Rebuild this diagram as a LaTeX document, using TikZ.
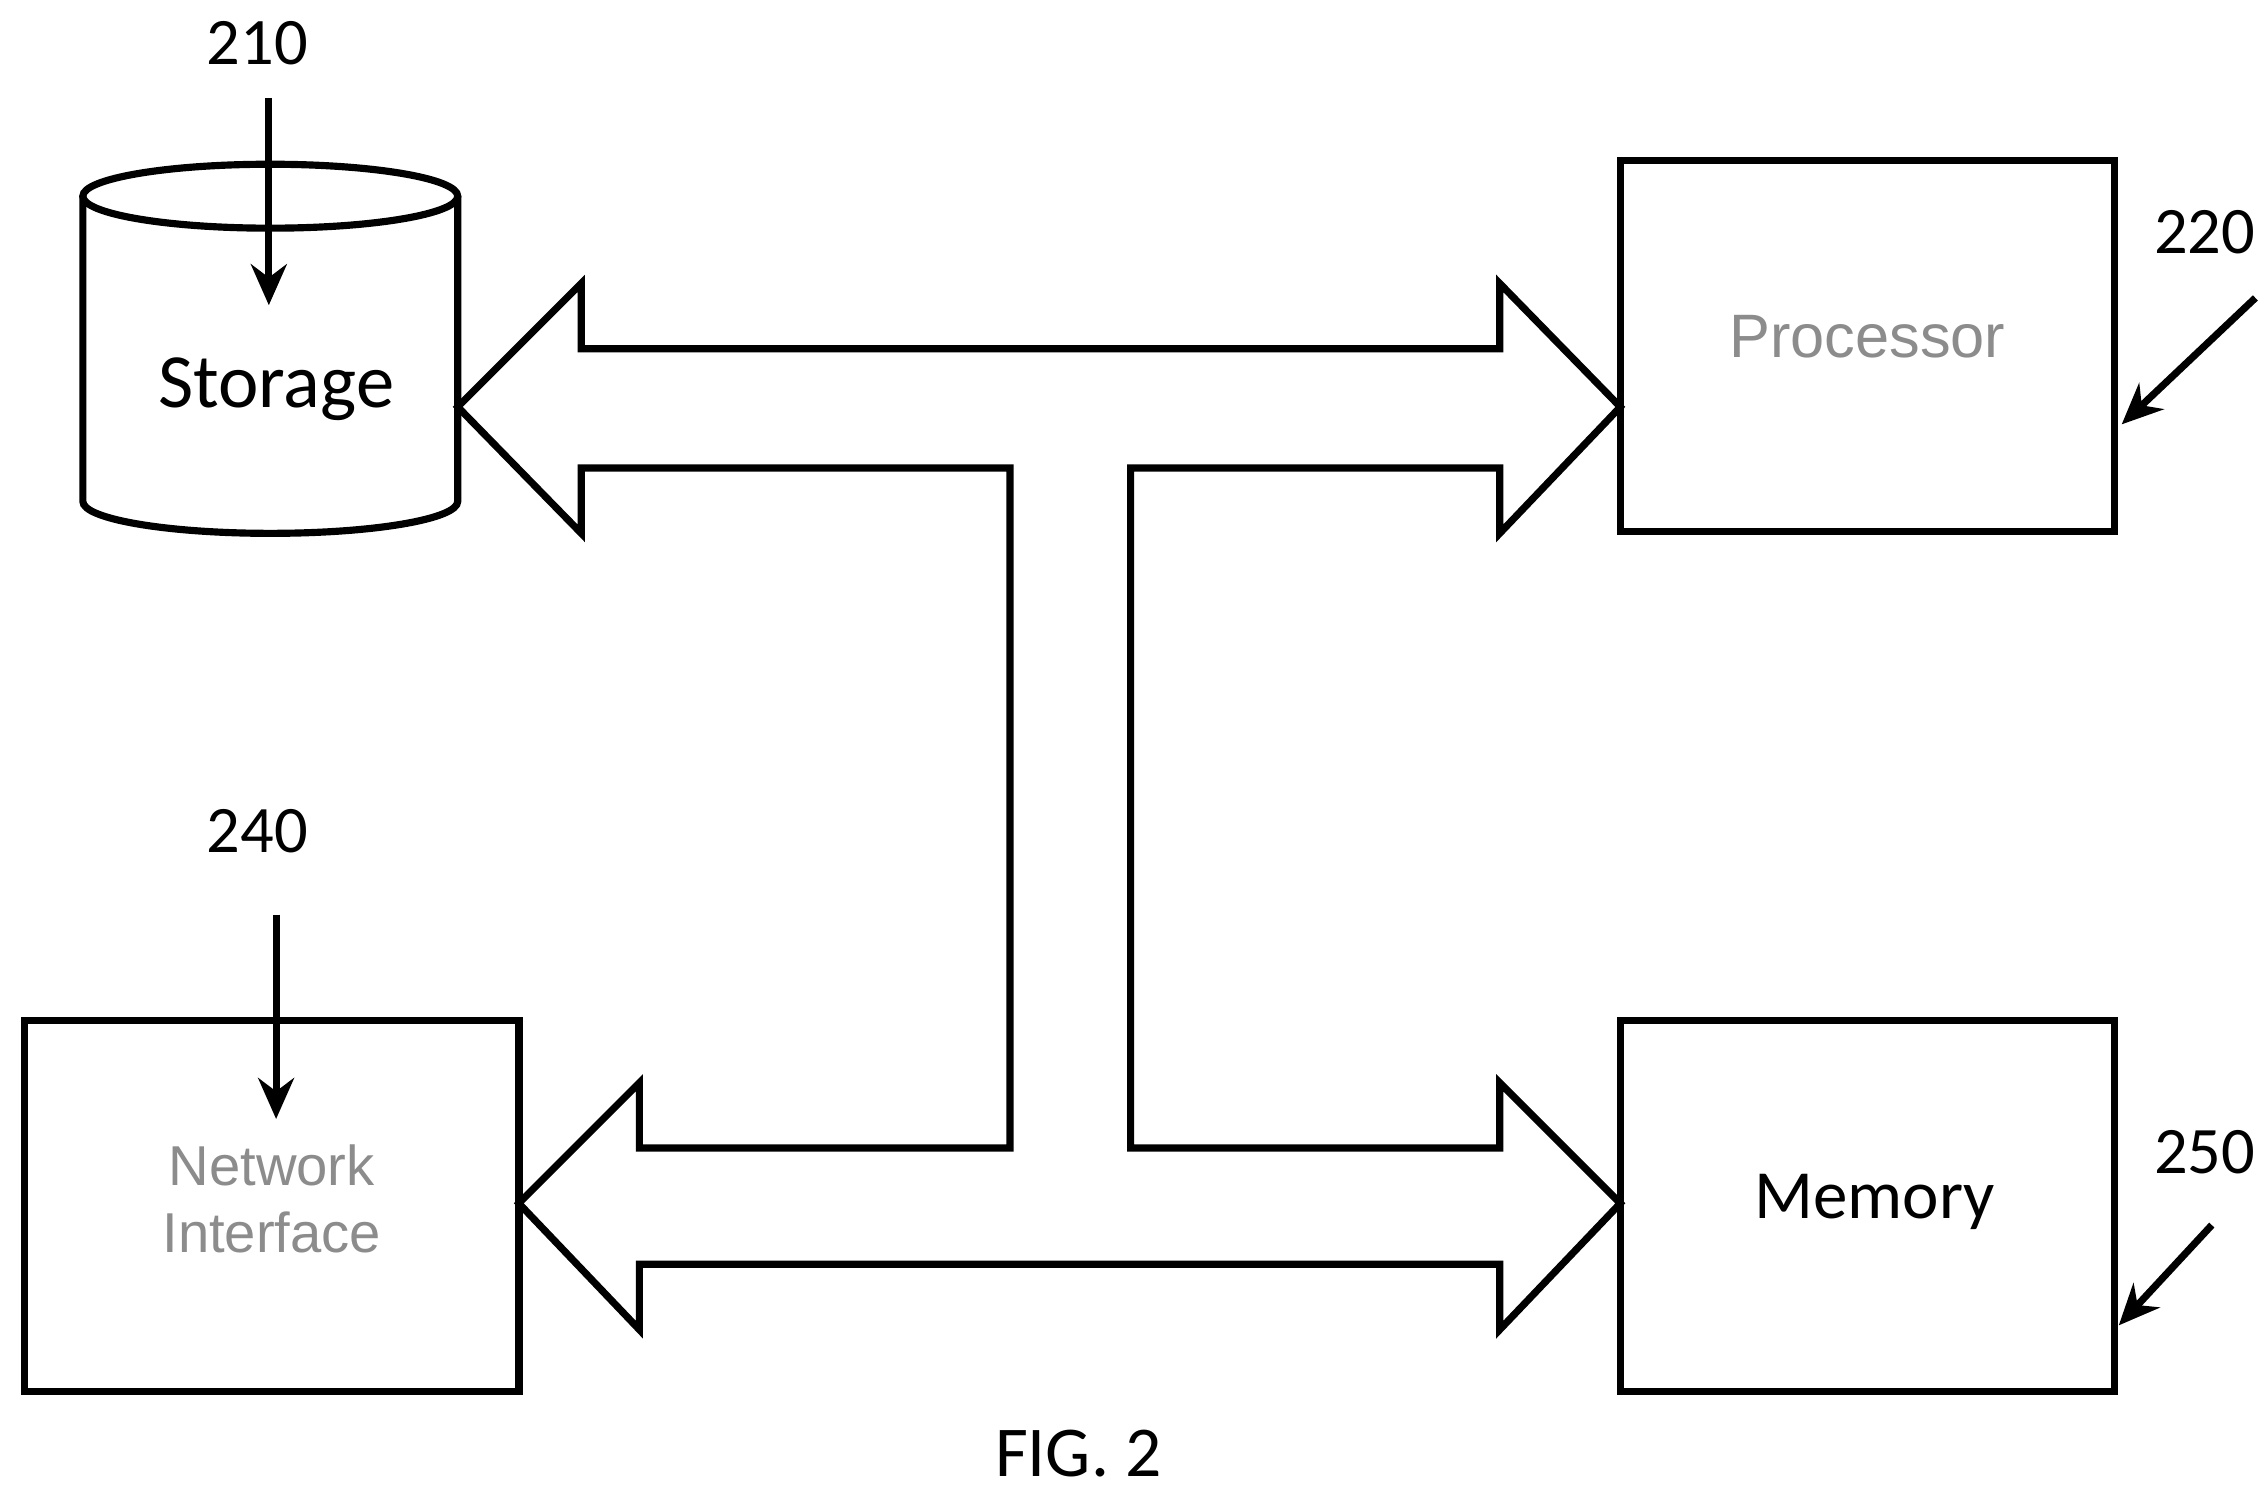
\documentclass[tikz,border=0pt]{standalone}
\usepackage{fontspec}
\setmainfont{Carlito}
\newfontfamily\grayfont{Liberation Sans}
\usetikzlibrary{arrows.meta}
\tikzset{
  box/.style={draw,line width=1.4pt,minimum width=3.4cm,minimum height=2.55cm},
  num/.style={font=\fontsize{13}{15}\selectfont},
  lead/.style={line width=1.4pt,-{Stealth[length=8pt,width=7pt]}},
  dim/.style={text=black!45,font=\grayfont\fontsize{11}{13}\selectfont,align=center}
}
\begin{document}
\begin{tikzpicture}[x=0.01cm,y=-0.01cm]
        \useasboundingbox (0,0) rectangle (1560,1026);
        % storage drum
        \draw[line width=1.4pt] (186,135) ellipse [x radius=129,y radius=22];
        \draw[line width=1.4pt] (57,135) -- (57,345) arc [start angle=180,end angle=360,x radius=129,y radius=-22] -- (315,135);
        \node[font=\fontsize{15}{17}\selectfont] (stor) at (190,268) {Storage};
        % blocks
        \node[box] (proc) at (1285,238) {};
        \node[dim,font=\grayfont\fontsize{12}{14}\selectfont] (proctxt) at (1285,232) {Processor};
        \node[box] (net) at (187,830) {};
        \node[dim] (nettxt) at (187,825) {Network\\Interface};
        \node[box] (mem) at (1285,830) {};
        \node[font=\fontsize{13.5}{15}\selectfont] (memtxt) at (1290,827) {Memory};

        % bus
        \draw[line width=1.4pt] (315,280) -- (400,195) -- (400,240) -- (1032,240) -- (1032,195)
            -- (1115,280) -- (1032,367) -- (1032,322) -- (778,322) -- (778,790) -- (1032,790)
            -- (1032,745) -- (1115,828) -- (1032,915) -- (1032,870) -- (440,870) -- (440,915)
            -- (357,828) -- (440,745) -- (440,790) -- (695,790) -- (695,322) -- (400,322)
            -- (400,367) -- cycle;

        % reference numbers
        \node[num] (n210) at (177,30) {210};
        \node[num] (n220) at (1517,160) {220};
        \node[num] (n240) at (177,572) {240};
        \node[num] (n250) at (1517,793) {250};
        \coordinate (a210) at (185,210);
        \coordinate (a220) at (1552,205);
        \coordinate (b220) at (1460,292);
        \coordinate (a240) at (190,770);
        \coordinate (a250) at (1522,843);
        \coordinate (b250) at (1458,912);
        \draw[lead] (n210.south) ++(8,10) -- (a210);
        \draw[lead] (a220) -- (b220);
        \draw[lead] (n240.south) ++(13,30) -- (a240);
        \draw[lead] (a250) -- (b250);

        \node[font=\fontsize{14}{16}\selectfont] (fig) at (742,1000) {FIG. 2};
      \end{tikzpicture}
\end{document}
